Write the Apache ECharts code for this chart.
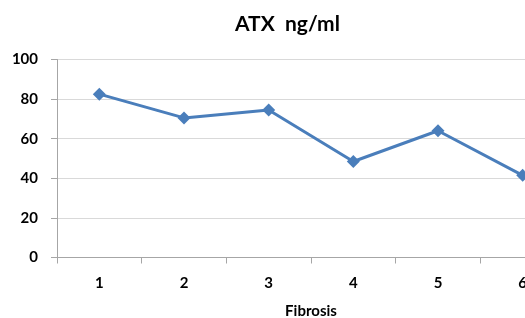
<!DOCTYPE html>
<html>
<head>
<meta charset="utf-8">
<script src="https://cdn.jsdelivr.net/npm/echarts@6/dist/echarts.min.js"></script>
<style>
  html, body { margin: 0; padding: 0; background: #fff; }
  #chart { width: 525px; height: 318px; }
</style>
</head>
<body>
<div id="chart"></div>
<script>
var categories = ['1', '2', '3', '4', '5', '6'];
var atxValues = [82.5, 70.5, 74.5, 48.5, 64, 41.5];
var yTicks = [0, 20, 40, 60, 80, 100];

var font = 'Lato, "Open Sans", sans-serif';

var chart = echarts.init(document.getElementById('chart'));
chart.setOption({
    animation: false,
    title: {
        text: 'ATX  ng/ml',
        left: 230,
        top: 9,
        textStyle: { fontFamily: font, fontSize: 21, fontWeight: 'bold', color: '#000' }
    },
    grid: { left: 57, top: 59.5, width: 508, height: 198, containLabel: false, outerBoundsMode: 'none' },
    xAxis: {
        type: 'category',
        data: categories,
        boundaryGap: true,
        name: 'Fibrosis',
        nameLocation: 'middle',
        nameGap: 46,
        nameTextStyle: { fontFamily: font, fontSize: 15, fontWeight: 'bold', color: '#000' },
        axisLine: { lineStyle: { color: '#a6a6a6', width: 1 } },
        axisTick: { show: true, length: 6, lineStyle: { color: '#a6a6a6' } },
        axisLabel: { margin: 18, fontFamily: font, fontSize: 15, fontWeight: 'bold', color: '#000' }
    },
    yAxis: {
        type: 'value',
        min: yTicks[0],
        max: yTicks[yTicks.length - 1],
        interval: 20,
        axisLine: { show: true, lineStyle: { color: '#a6a6a6', width: 1 } },
        axisTick: { show: true, length: 6, lineStyle: { color: '#a6a6a6' } },
        axisLabel: { margin: 19, fontFamily: font, fontSize: 15, fontWeight: 'bold', color: '#000' },
        splitLine: { lineStyle: { color: '#d9d9d9', width: 1 } }
    },
    series: [{
        type: 'line',
        data: atxValues,
        symbol: 'diamond',
        symbolSize: 13,
        clip: false,
        lineStyle: { color: '#4a7ebb', width: 3 },
        itemStyle: { color: '#4a7ebb' }
    }]
});
</script>
</body>
</html>
